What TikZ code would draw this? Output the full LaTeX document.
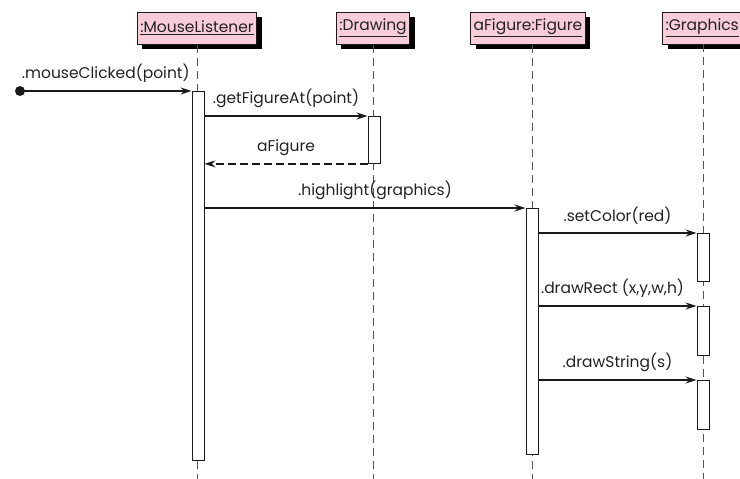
\documentclass[tikz,border=0pt]{standalone}
\usepackage{fontspec}
\setmainfont{Poppins}
\usetikzlibrary{positioning, arrows.meta, shadows}
\definecolor{clrobject}{HTML}{F8CDD9}
\definecolor{clrline}{HTML}{1A1A1A}
\definecolor{clrlife}{HTML}{555555}
\definecolor{clrtext}{HTML}{222222}

\begin{document}
\begin{tikzpicture}[
    x=1pt, y=-1pt,
    >=Stealth,
    every node/.style={font=\fontsize{15.5}{18}\selectfont, text=clrtext},
    object/.style={draw=clrline, fill=clrobject, line width=1pt, minimum height=32pt,
                   inner xsep=3pt, drop shadow={shadow xshift=5pt, shadow yshift=-5pt,
                   fill=black, opacity=1}},
    activation/.style={draw=clrline, fill=white, line width=0.9pt, minimum width=12pt,
                       anchor=north, inner sep=0pt},
    lifeline/.style={color=clrlife, line width=0.8pt, dash pattern=on 8pt off 5pt},
    message/.style={-{Stealth[length=11pt, width=7pt]}, line width=1.6pt, color=clrline},
    reply/.style={message, dash pattern=on 8pt off 4pt},
    msglabel/.style={above=4pt},
]
\useasboundingbox (0,0) rectangle (740,479);
\coordinate (bottom) at (0,479);
\node[object] (ml) at (197,28) {\underline{:MouseListener}};
\node[object] (dr) at (373,28) {\underline{:Drawing}};
\node[object] (fig) at (528,28) {\underline{aFigure:Figure}};
\node[object, anchor=west] (gr) at (662,28) {\underline{:Graphics}\hspace{6pt}};
\draw[lifeline] (ml.south) -- (ml.south |- bottom);
\draw[lifeline] (dr.south) -- (dr.south |- bottom);
\draw[lifeline] ([xshift=4pt]fig.south) -- ([xshift=4pt]fig.south |- bottom);
\draw[lifeline] (703,44) -- (703,479);
\node[activation, minimum height=369pt] (ml_act) at (198,91) {};
\node[activation, minimum height=47pt] (dr_act) at (374,116) {};
\node[activation, minimum height=246pt] (fig_act) at (532,208) {};
\node[activation, minimum height=48pt] (gr_act1) at (703,233) {};
\node[activation, minimum height=49pt] (gr_act2) at (703,306) {};
\node[activation, minimum height=49pt] (gr_act3) at (703,380) {};
\node[circle, fill=clrline, minimum size=10pt, inner sep=0pt] (start) at (20,91) {};
\draw[message] (start.center) -- node[msglabel] {.mouseClicked(point)} (ml_act.north west);
\draw[message] (ml_act.east |- dr_act.north west) -- node[msglabel] {.getFigureAt(point)} (dr_act.north west);
\draw[reply] (dr_act.south west) -- node[msglabel] {aFigure} (ml_act.east |- dr_act.south west);
\draw[message] (ml_act.east |- fig_act.north west) -- node[msglabel, xshift=10pt] {.highlight(graphics)} (fig_act.north west);
\draw[message] (fig_act.east |- gr_act1.north west) -- node[msglabel] {.setColor(red)} (gr_act1.north west);
\draw[message] (fig_act.east |- gr_act2.north west) -- node[msglabel, xshift=-5pt] {.drawRect (x,y,w,h)} (gr_act2.north west);
\draw[message] (fig_act.east |- gr_act3.north west) -- node[msglabel] {.drawString(s)} (gr_act3.north west);
\end{tikzpicture}
\end{document}
